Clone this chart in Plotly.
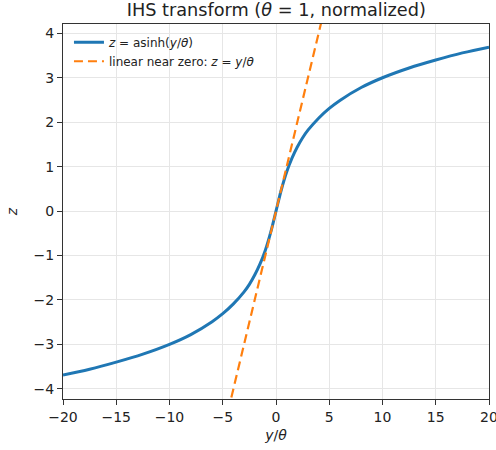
import plotly.graph_objects as go

# values
x_vals = [-20, -17.5, -15, -12.5, -10, -8, -6, -5, -4, -3, -2.5, -2, -1.5, -1, -0.5, 0,
          0.5, 1, 1.5, 2, 2.5, 3, 4, 5, 6, 8, 10, 12.5, 15, 17.5, 20]
z_vals = [-3.69, -3.56, -3.40, -3.22, -3.00, -2.78, -2.49, -2.31, -2.09, -1.82, -1.65, -1.44, -1.19, -0.88, -0.48, 0.0,
          0.48, 0.88, 1.19, 1.44, 1.65, 1.82, 2.09, 2.31, 2.49, 2.78, 3.00, 3.22, 3.40, 3.56, 3.69]
lin_x = [-4.5, 0, 4.5]
lin_z = [-4.5, 0, 4.5]

x_ticks = [-20, -15, -10, -5, 0, 5, 10, 15, 20]
y_ticks = [-4, -3, -2, -1, 0, 1, 2, 3, 4]
y_tick_text = ["\u22124", "\u22123", "\u22122", "\u22121", "0", "1", "2", "3", "4"]
x_tick_text = ["\u221220", "\u221215", "\u221210", "\u22125", "0", "5", "10", "15", "20"]

fig = go.Figure()
fig.add_trace(go.Scatter(
    x=x_vals, y=z_vals, mode="lines", line=dict(color="#1f77b4", width=3, shape="spline"),
    name="<i>z</i> = asinh(<i>y</i>/<i>θ</i>)"))
fig.add_trace(go.Scatter(
    x=lin_x, y=lin_z, mode="lines", line=dict(color="#ff7f0e", width=2.2, dash="9px,5px"),
    name="linear near zero: <i>z</i> = <i>y</i>/<i>θ</i>"))

axis_common = dict(
    showgrid=True, gridcolor="#e6e6e6", gridwidth=1, zeroline=False,
    showline=True, linecolor="#333333", linewidth=1, mirror=True,
    ticks="outside", ticklen=5, tickcolor="#333333", tickwidth=1,
    tickfont=dict(size=14, color="#222222", family="DejaVu Sans"),
    automargin=False,
)

fig.update_layout(
    width=496, height=450,
    margin=dict(l=63, r=7, t=24, b=51),
    paper_bgcolor="white", plot_bgcolor="white",
    font=dict(family="DejaVu Sans", color="#222222"),
    title=dict(text="IHS transform (<i>θ</i> = 1, normalized)", x=0.557, xanchor="center",
               y=0.978, yanchor="middle", font=dict(size=17.7, color="#222222")),
    showlegend=True,
    legend=dict(x=0.014, y=0.99, xanchor="left", yanchor="top", bgcolor="rgba(0,0,0,0)",
                font=dict(size=12, color="#222222"), tracegroupgap=0),
    xaxis=dict(range=[-20, 20], tickvals=x_ticks, ticktext=x_tick_text, ticklabeloverflow="allow",
               title=dict(text="<i>y</i>/<i>θ</i>", font=dict(size=14), standoff=6), **axis_common),
    yaxis=dict(range=[-4.23, 4.21], tickvals=y_ticks, ticktext=y_tick_text,
               title=dict(text="<i>z</i>", font=dict(size=14), standoff=12), **axis_common),
)

fig.write_html("out.html", config={"displayModeBar": False},
               post_script="document.body.style.margin='0';")
